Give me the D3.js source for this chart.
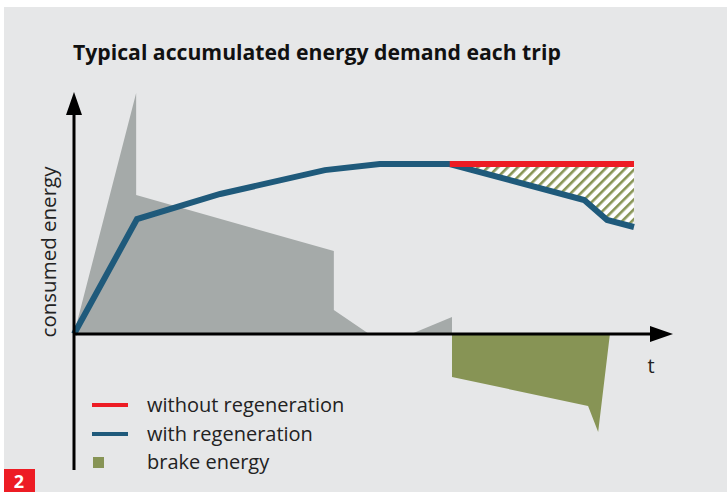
<!DOCTYPE html>
<html>
<head>
<meta charset="utf-8">
<script src="https://cdn.jsdelivr.net/npm/d3@7"></script>
<style>
  body { margin: 0; background: #ffffff; }
  text { font-family: "Open Sans", "Noto Sans", sans-serif; }
</style>
</head>
<body>
<div id="canvas"></div>
<script>
// time runs 0..100, energy in arbitrary units (0..100 above the axis)
let grayDemand = [[0, 0], [11.1, 100], [11.1, 57.7], [46.4, 34.4], [46.4, 10], [52.7, 0]]
let grayDemand2 = [[60.2, 0], [67.5, 7.1], [67.5, 0]]
let brakeEnergy = [[67.5, -17.8], [91.8, -29.9], [93.6, -40.7], [95.7, 0]]
let withRegen = [[0, 0], [11.25, 47.7], [26.1, 58.1], [44.8, 68.0], [54.6, 70.5], [67.1, 70.5], [91.1, 55.6], [95.2, 47.3], [100, 44.4]]
let withoutRegen = [[67.1, 70.5], [100, 70.5]]
let legendLabels = ["without regeneration", "with regeneration", "brake energy"]

let colors = {
  red: "#ed1c24",
  blue: "#1f5a7b",
  green: "#879455",
  gray: "#a5aaa9",
  bg: "#e6e7e8"
}

let svg = {}
let x, y

window.onload = function () { setup() }

function setup() {
  setupSVGCanvas()
  setupScales()
  drawBackground()
  drawAreas()
  drawLines()
  drawAxes()
  drawLegend()
}

function setupSVGCanvas() {
  svg = d3.select("#canvas")
    .append("svg")
    .attr("width", 727)
    .attr("height", 492)
}

function setupScales() {
  x = d3.scaleLinear().domain([0, 100]).range([74, 634])
  y = d3.scaleLinear().domain([0, 100]).range([334, 93])
}

function drawBackground() {
  svg.append("rect")
    .attr("x", 4).attr("y", 7)
    .attr("width", 723).attr("height", 485)
    .attr("fill", colors.bg)

  svg.append("text")
    .attr("x", 73).attr("y", 60)
    .attr("font-size", 21.2)
    .attr("font-weight", "bold")
    .attr("fill", "#111")
    .text("Typical accumulated energy demand each trip")

  // figure number box
  svg.append("rect")
    .attr("x", 4).attr("y", 469)
    .attr("width", 31).attr("height", 23)
    .attr("fill", colors.red)
  svg.append("text")
    .attr("x", 19).attr("y", 488)
    .attr("text-anchor", "middle")
    .attr("font-size", 18)
    .attr("font-weight", "bold")
    .attr("fill", "#fff")
    .text("2")
}

function drawAreas() {
  let area = d3.area()
    .x(d => x(d[0]))
    .y0(y(0))
    .y1(d => y(d[1]))

  svg.append("path").datum(grayDemand)
    .attr("d", area).attr("fill", colors.gray)
  svg.append("path").datum(grayDemand2)
    .attr("d", area).attr("fill", colors.gray)
  svg.append("path").datum(brakeEnergy)
    .attr("d", area).attr("fill", colors.green)

  // hatched gap between the two curves
  let pattern = svg.append("defs").append("pattern")
    .attr("id", "hatch")
    .attr("patternUnits", "userSpaceOnUse")
    .attr("width", 7).attr("height", 7)
    .attr("patternTransform", "rotate(45)")
  pattern.append("rect")
    .attr("width", 7).attr("height", 7).attr("fill", "#fff")
  pattern.append("rect")
    .attr("x", 0).attr("width", 2.6).attr("height", 7)
    .attr("fill", colors.green)

  let gap = withRegen.filter(d => d[0] >= withoutRegen[0][0])
  let hatchArea = d3.area()
    .x(d => x(d[0]))
    .y0(y(withoutRegen[0][1]))
    .y1(d => y(d[1]))
  svg.append("path").datum(gap)
    .attr("d", hatchArea).attr("fill", "url(#hatch)")
}

function drawLines() {
  let line = d3.line()
    .x(d => x(d[0]))
    .y(d => y(d[1]))

  svg.append("path").datum(withRegen)
    .attr("d", line)
    .attr("fill", "none")
    .attr("stroke", colors.blue)
    .attr("stroke-width", 6)

  svg.append("path").datum(withoutRegen)
    .attr("d", line)
    .attr("fill", "none")
    .attr("stroke", colors.red)
    .attr("stroke-width", 6)
}

function drawAxes() {
  let x0 = x(0), y0 = y(0)

  svg.append("line")
    .attr("x1", x0).attr("y1", 112)
    .attr("x2", x0).attr("y2", 470)
    .attr("stroke", "#000").attr("stroke-width", 3)
  svg.append("path")
    .attr("d", `M${x0},92 L${x0 - 8},115 L${x0 + 8},115 Z`)
    .attr("fill", "#000")

  svg.append("line")
    .attr("x1", x0).attr("y1", y0)
    .attr("x2", 655).attr("y2", y0)
    .attr("stroke", "#000").attr("stroke-width", 3)
  svg.append("path")
    .attr("d", `M673,${y0} L650,${y0 - 8} L650,${y0 + 8} Z`)
    .attr("fill", "#000")

  svg.append("text")
    .attr("x", 651).attr("y", 373)
    .attr("text-anchor", "middle")
    .attr("font-size", 20)
    .attr("fill", "#222")
    .text("t")

  svg.append("text")
    .attr("transform", "translate(56,252) rotate(-90)")
    .attr("text-anchor", "middle")
    .attr("font-size", 20.5)
    .attr("fill", "#222")
    .text("consumed energy")
}

function drawLegend() {
  let rows = [405, 434, 462]

  svg.append("line")
    .attr("x1", 92).attr("x2", 128)
    .attr("y1", rows[0]).attr("y2", rows[0])
    .attr("stroke", colors.red).attr("stroke-width", 4)
  svg.append("line")
    .attr("x1", 92).attr("x2", 128)
    .attr("y1", rows[1]).attr("y2", rows[1])
    .attr("stroke", colors.blue).attr("stroke-width", 4)
  svg.append("rect")
    .attr("x", 93).attr("y", rows[2] - 5)
    .attr("width", 11).attr("height", 11)
    .attr("fill", colors.green)

  svg.selectAll(".legend-label")
    .data(legendLabels)
    .join("text")
    .attr("class", "legend-label")
    .attr("x", 147)
    .attr("y", (d, i) => rows[i] + 7)
    .attr("font-size", 20)
    .attr("fill", "#222")
    .text(d => d)
}
</script>
</body>
</html>
